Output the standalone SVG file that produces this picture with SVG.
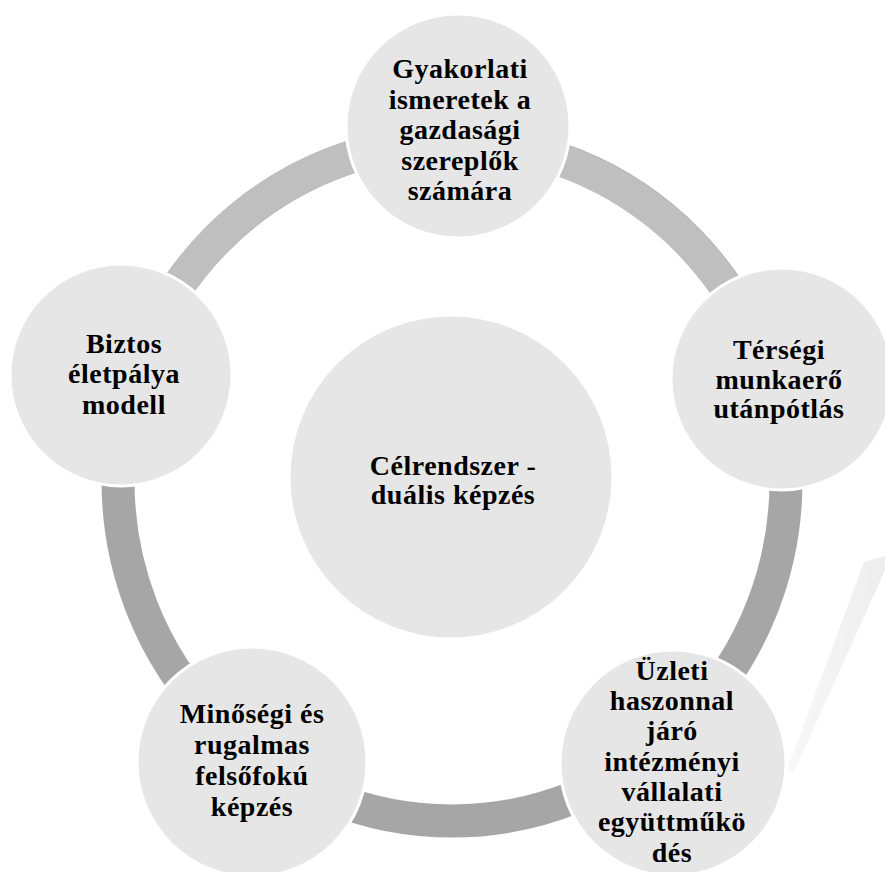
<svg xmlns="http://www.w3.org/2000/svg" width="885" height="872" viewBox="0 0 885 872">
<defs>
<style>
.node{fill:#e6e6e6;stroke:#ffffff;stroke-width:3}
.lbl{font-family:"Liberation Serif","Times New Roman",serif;font-weight:bold;font-size:28px;fill:#000000;text-anchor:middle;letter-spacing:0.5px}
.ring{fill:none;stroke-width:33}
</style>
<linearGradient id="glare" x1="0" y1="0" x2="1" y2="0">
<stop offset="0" stop-color="#f8f8f8"/>
<stop offset="1" stop-color="#ededed"/>
</linearGradient>
</defs>
<rect width="885" height="872" fill="#ffffff"/>
<polygon points="864,562 885,556 885,570 794,772 787,770" fill="url(#glare)"/>
<g id="connectors">
<ellipse class="ring" cx="452" cy="481" rx="334" ry="340" stroke="#a6a6a6"/>
<path class="ring" d="M 133 379 A 334 340 0 0 1 771 382" stroke="#bfbfbf"/>
</g>
<g id="node-center">
<circle class="node" cx="451" cy="477" r="162"/>
<text class="lbl"><tspan x="453" y="475">Célrendszer -</tspan><tspan x="453" y="504">duális képzés</tspan></text>
</g>
<g id="node-top">
<circle class="node" cx="458" cy="126" r="112"/>
<text class="lbl"><tspan x="460" y="78">Gyakorlati</tspan><tspan x="460" y="108.5">ismeretek a</tspan><tspan x="460" y="139">gazdasági</tspan><tspan x="460" y="169.5">szereplők</tspan><tspan x="460" y="200">számára</tspan></text>
</g>
<g id="node-right">
<circle class="node" cx="782" cy="379" r="111"/>
<text class="lbl"><tspan x="779" y="359">Térségi</tspan><tspan x="779" y="388.5">munkaerő</tspan><tspan x="779" y="418">utánpótlás</tspan></text>
</g>
<g id="node-bottom-right">
<circle class="node" cx="673" cy="763" r="113"/>
<text class="lbl"><tspan x="672" y="680">Üzleti</tspan><tspan x="672" y="710">haszonnal</tspan><tspan x="672" y="740">járó</tspan><tspan x="672" y="771">intézményi</tspan><tspan x="672" y="801">vállalati</tspan><tspan x="672" y="831">együttműkö</tspan><tspan x="672" y="862">dés</tspan></text>
</g>
<g id="node-bottom-left">
<circle class="node" cx="252" cy="762" r="115"/>
<text class="lbl"><tspan x="252" y="723">Minőségi és</tspan><tspan x="252" y="754">rugalmas</tspan><tspan x="252" y="785">felsőfokú</tspan><tspan x="252" y="816">képzés</tspan></text>
</g>
<g id="node-left">
<circle class="node" cx="121" cy="375" r="111"/>
<text class="lbl"><tspan x="124" y="353">Biztos</tspan><tspan x="124" y="383">életpálya</tspan><tspan x="124" y="414">modell</tspan></text>
</g>
</svg>
